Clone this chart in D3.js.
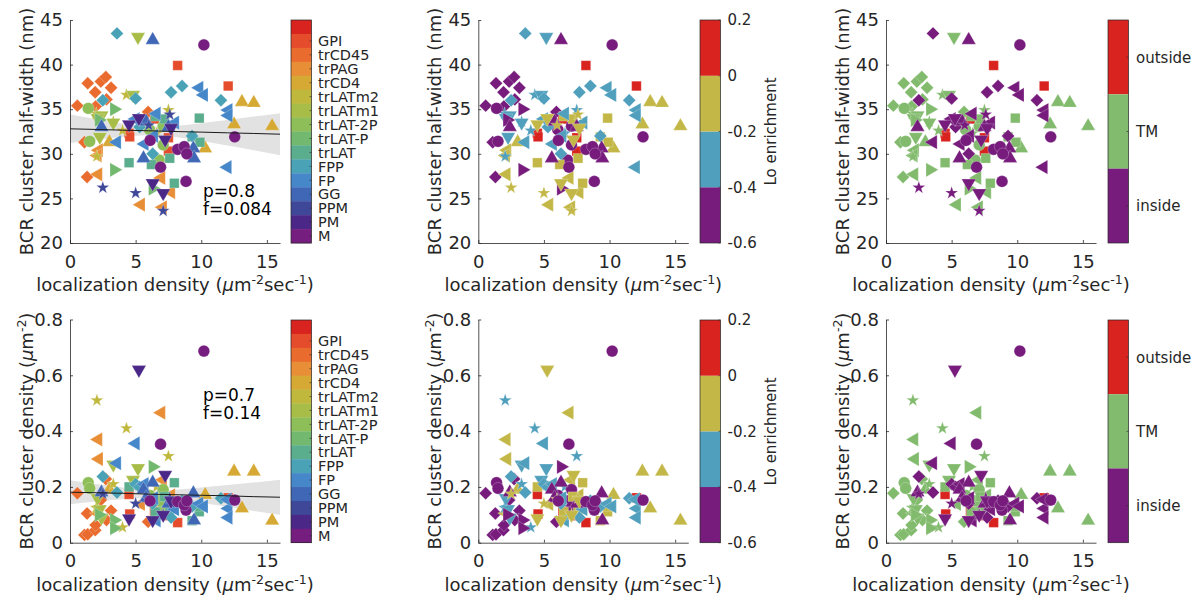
<!DOCTYPE html>
<html>
<head>
<meta charset="utf-8">
<script src="https://cdn.jsdelivr.net/npm/d3@7"></script>
<style>
  body { margin: 0; background: #fff; }
  svg { display: block; }
  text { font-family: "DejaVu Sans", sans-serif; fill: #262626; }
</style>
</head>
<body>
<svg id="fig" width="1200" height="601"></svg>
<script>
// ---- probes (colour-bar order, top to bottom) ----
const probes = ["GPI","trCD45","trPAG","trCD4","trLATm2","trLATm1","trLAT-2P","trLAT-P","trLAT","FPP","FP","GG","PPM","PM","M"];
const probeMarkers = ["square","diamond","left","up","star","down","circle","right","square","diamond","left","up","star","down","circle"];
const probeLoEnrichment = [0.1,-0.5,-0.1,-0.1,-0.3,-0.3,-0.5,-0.5,-0.1,-0.3,-0.3,-0.5,-0.1,-0.1,-0.5];
const probeSite = ["outside","TM","TM","TM","TM","TM","TM","TM","TM","inside","inside","inside","inside","inside","inside"];

// 16-step rainbow map; probe i uses step i+1
const rainbowColors = ["#d8231f","#e54c2b","#ea6b2e","#e88e37","#d6a934","#c0b83d","#a8bd47","#8ebe58","#73b86f","#5aad8d","#4aa2b6","#4587c9","#3f67b6","#3f4799","#4b2888","#761e80"];

const loTicks = [0.2, 0, -0.2, -0.4, -0.6];
const loBins = [-0.4, -0.2, 0];
const loColors = ["#771c7d", "#4f9fbd", "#c3b847", "#d8231f"];   // low -> high

const siteNames = ["outside", "TM", "inside"];
const siteColors = ["#d8231f", "#82bb6d", "#771c7d"];

// ---- one entry per cell ----
const pointProbe = [
  0,0,0,0,0,0,0,
  1,1,1,1,1,1,1,1,1,1,1,
  2,2,2,2,2,2,2,
  3,3,3,3,3,3,
  4,4,4,4,4,4,4,
  5,5,5,5,5,5,
  6,6,6,6,6,6,
  7,7,7,7,
  8,8,8,8,8,8,8,8,8,
  9,9,9,9,9,9,9,9,9,
  10,10,10,10,10,10,10,10,10,10,10,
  11,11,11,11,11,11,11,
  12,12,12,12,12,
  13,13,13,13,13,13,
  14,14,14,14,14,14,14,14
];
const locDensity = [
  8.2,12.05,6.44,4.5,4.55,7.5,7.5,
  0.56,1.1,1.3,1.35,1.92,1.95,2.35,2.73,2.78,3.13,5.95,
  2.15,2.2,2.1,5.4,7.07,6.95,7.7,
  13.1,14.0,15.4,12.5,10.3,3.0,
  4.3,7.5,2.05,6.6,4.0,3.3,2.0,
  5.18,4.8,2.4,3.3,2.27,2.1,
  1.39,1.5,6.06,7.1,7.1,6.8,
  3.36,3.36,6.3,2.2,
  9.85,4.5,7.6,7.95,6.2,9.3,9.9,7.2,6.5,
  3.58,7.7,8.54,11.5,5.0,2.5,6.3,5.3,9.3,
  9.85,10.2,12.07,12.07,12.0,3.58,5.68,5.0,6.6,6.4,8.0,
  6.3,9.4,9.45,5.6,2.4,7.5,5.8,
  2.5,5.0,7.1,7.6,6.0,
  4.5,6.3,7.1,7.25,7.7,5.25,
  10.2,12.55,8.84,8.2,8.7,8.9,6.9,6.1
];
const halfWidth = [
  39.9,37.6,33.9,32.3,31.9,31.8,30.3,
  35.4,31.3,27.4,37.9,36.9,35.3,38.1,38.6,36.1,37.4,34.7,
  27.7,30.4,29.8,24.3,24.0,27.3,25.7,
  35.8,35.7,33.1,33.3,30.6,31.3,
  36.6,34.9,29.7,32.3,32.6,33.6,34.5,
  43.1,36.6,34.3,33.5,31.9,34.0,
  35.1,31.4,32.7,33.1,31.0,29.3,
  35.0,28.2,26.1,33.8,
  34.0,29.0,29.5,26.7,28.8,31.9,31.3,33.9,34.2,
  43.5,36.9,37.6,36.0,36.2,36.0,30.0,33.0,32.0,
  37.4,36.6,34.9,34.3,28.5,31.3,31.1,33.9,34.5,32.0,33.5,
  42.75,30.6,29.5,29.5,33.0,33.0,33.6,
  26.2,25.6,23.6,34.4,33.2,
  33.3,26.7,25.6,31.6,32.9,34.0,
  42.2,31.9,26.9,30.5,30.8,30.0,28.5,31.5
];
const clusterDensity = [
  0.072,0.161,0.113,0.173,0.103,0.13,0.097,
  0.177,0.028,0.105,0.03,0.045,0.063,0.153,0.228,0.081,0.115,0.075,
  0.37,0.30,0.106,0.139,0.225,0.466,0.17,
  0.123,0.255,0.079,0.255,0.171,0.19,
  0.41,0.31,0.51,0.2,0.055,0.21,0.125,
  0.267,0.225,0.09,0.28,0.12,0.16,
  0.215,0.195,0.17,0.19,0.12,0.15,
  0.081,0.052,0.272,0.1,
  0.111,0.2,0.12,0.215,0.147,0.079,0.13,0.165,0.11,
  0.18,0.09,0.15,0.159,0.21,0.237,0.14,0.2,0.13,
  0.14,0.13,0.123,0.09,0.155,0.285,0.21,0.356,0.08,0.16,0.12,
  0.215,0.177,0.08,0.19,0.18,0.14,0.16,
  0.175,0.14,0.1,0.16,0.155,
  0.087,0.081,0.1,0.243,0.15,0.62,
  0.687,0.153,0.117,0.147,0.135,0.15,0.353,0.15
];

// ---- linear fits with confidence band ----
const fitX = [0, 2, 4, 6, 8, 10, 12, 14, 16];
const halfWidthFit = [32.8, 32.73, 32.65, 32.58, 32.5, 32.43, 32.35, 32.28, 32.2];
const halfWidthFitCI = [1.6, 1.16, 0.76, 0.51, 0.63, 1.0, 1.43, 1.89, 2.35];
const densityFit = [0.181, 0.179, 0.177, 0.174, 0.172, 0.17, 0.168, 0.165, 0.163];
const densityFitCI = [0.043, 0.031, 0.021, 0.015, 0.018, 0.028, 0.039, 0.051, 0.063];
const fitStats = [["p=0.8", "f=0.084"], ["p=0.7", "f=0.14"]];

const points = pointProbe.map((p, i) => ({
  probe: p, x: locDensity[i], hw: halfWidth[i], dens: clusterDensity[i]
}));

// ---- layout ----
const svg = d3.select("#fig");
const axisColor = "#262626";
const rows = [
  { key: "hw", domain: [20, 45], ticks: [20, 25, 30, 35, 40, 45], top: 20, bottom: 243,
    fit: halfWidthFit, ci: halfWidthFitCI, stats: fitStats[0], statsY: [197, 215],
    ylabel: [["BCR cluster half-width (nm)"]] },
  { key: "dens", domain: [0, 0.8], ticks: [0, 0.2, 0.4, 0.6, 0.8], top: 319.5, bottom: 542.7,
    fit: densityFit, ci: densityFitCI, stats: fitStats[1], statsY: [400.7, 418.5],
    ylabel: [["BCR cluster density ("], ["μ", "it"], ["m"], ["-2", "sup"], [")", "down"]] }
];
const cols = [
  { left: 70, mode: "probe", bar: 291 },
  { left: 478.3, mode: "lo", bar: 700 },
  { left: 886, mode: "site", bar: 1108 }
];
const plotW = 210;
const barW = 20.5;

const markerDefs = {
  square:  { type: d3.symbolSquare,   rot: 0,   size: 92 },
  diamond: { type: d3.symbolSquare,   rot: 45,  size: 84 },
  up:      { type: d3.symbolTriangle, rot: 0,   size: 88 },
  down:    { type: d3.symbolTriangle, rot: 180, size: 88 },
  left:    { type: d3.symbolTriangle, rot: -90, size: 88 },
  right:   { type: d3.symbolTriangle, rot: 90,  size: 88 },
  circle:  { type: d3.symbolCircle,   rot: 0,   size: 108 },
  star:    { type: d3.symbolStar,     rot: 0,   size: 52 }
};

const loScale = d3.scaleThreshold().domain(loBins).range(loColors);
const siteScale = d3.scaleOrdinal().domain(siteNames).range(siteColors);

function colorOf(mode, p) {
  if (mode === "probe") return rainbowColors[p + 1];
  if (mode === "lo") return loScale(probeLoEnrichment[p]);
  return siteScale(probeSite[p]);
}

function richText(sel, parts, supSize) {
  parts.forEach(([t, kind]) => {
    const ts = sel.append("tspan").text(t);
    if (kind === "it") ts.attr("font-style", "italic");
    if (kind === "sup") ts.attr("font-size", supSize).attr("dy", -7);
    if (kind === "down") ts.attr("dy", 7);
  });
}

const xLabelParts = [["localization density ("], ["μ", "it"], ["m"], ["-2", "sup"], ["sec", "down"], ["-1", "sup"], [")", "down"]];

rows.forEach((row, ri) => {
  const y = d3.scaleLinear().domain(row.domain).range([row.bottom, row.top]);
  cols.forEach((col, ci) => {
    const x = d3.scaleLinear().domain([0, 16]).range([col.left, col.left + plotW]);
    const g = svg.append("g");

    // regression band + line in the probe panels
    if (ci === 0) {
      const band = d3.area()
        .x((d, i) => x(fitX[i]))
        .y0((d, i) => y(row.fit[i] - row.ci[i]))
        .y1((d, i) => y(row.fit[i] + row.ci[i]))
        .curve(d3.curveNatural);
      g.append("path").datum(fitX).attr("d", band).attr("fill", "#e2e2e2");
    }

    // markers
    g.append("g").selectAll("path").data(points).join("path")
      .attr("d", d => d3.symbol().type(markerDefs[probeMarkers[d.probe]].type)
                        .size(markerDefs[probeMarkers[d.probe]].size)())
      .attr("transform", d => `translate(${x(d.x)},${y(d[row.key])}) rotate(${markerDefs[probeMarkers[d.probe]].rot})`)
      .attr("fill", d => colorOf(col.mode, d.probe))
      .attr("stroke", "#ffffff").attr("stroke-width", 0.4).attr("stroke-opacity", 0.6);

    if (ci === 0) {
      const line = d3.line().x((d, i) => x(fitX[i])).y((d, i) => y(row.fit[i]));
      g.append("path").datum(fitX).attr("d", line)
        .attr("fill", "none").attr("stroke", "#1a1a1a").attr("stroke-width", 1);
      row.stats.forEach((s, k) => {
        g.append("text").attr("x", 203).attr("y", row.statsY[k])
          .attr("font-size", 17).style("fill", "#000").text(s);
      });
    }

    // axes
    const ya = g.append("g").attr("transform", `translate(${col.left},0)`)
      .call(d3.axisLeft(y).tickValues(row.ticks).tickFormat(d3.format("~g"))
        .tickSizeInner(-3).tickSizeOuter(0).tickPadding(7));
    const xa = g.append("g").attr("transform", `translate(0,${row.bottom})`)
      .call(d3.axisBottom(x).tickValues([0, 5, 10, 15])
        .tickSizeInner(-3).tickSizeOuter(0).tickPadding(12));
    [ya, xa].forEach(a => {
      a.select(".domain").attr("stroke", axisColor).attr("stroke-width", 0.8);
      a.selectAll(".tick line").attr("stroke", axisColor).attr("stroke-width", 0.8);
      a.selectAll(".tick text").attr("font-size", 18).attr("font-family", "DejaVu Sans")
        .style("fill", axisColor);
    });

    // axis titles
    const xl = g.append("text")
      .attr("x", col.left + plotW / 2).attr("y", row.bottom + 48)
      .attr("text-anchor", "middle").attr("font-size", 18);
    richText(xl, xLabelParts, 12.5);

    const ycx = col.left - 37, ycy = (row.top + row.bottom) / 2;
    const yl = g.append("text")
      .attr("transform", `translate(${ycx},${ycy}) rotate(-90)`)
      .attr("text-anchor", "middle").attr("font-size", 18);
    richText(yl, row.ylabel, 12.5);

    // colour bars
    const cb = g.append("g");
    const barTop = row.top + (ri === 1 ? 0.5 : 0), barBot = row.bottom;
    const bx = col.bar;
    if (col.mode === "probe") {
      const by = d3.scaleBand().domain(d3.range(rainbowColors.length)).range([barTop, barBot]);
      cb.selectAll("rect").data(rainbowColors).join("rect")
        .attr("x", bx).attr("y", (d, i) => by(i)).attr("width", barW).attr("height", by.bandwidth() + 0.3)
        .attr("fill", d => d);
      probes.forEach((p, i) => {
        const yy = by(i + 1) + by.bandwidth() / 2;
        cb.append("line").attr("x1", bx + barW - 2).attr("x2", bx + barW).attr("y1", yy).attr("y2", yy)
          .attr("stroke", axisColor).attr("stroke-width", 0.6);
        cb.append("text").attr("x", bx + barW + 6.5).attr("y", yy).attr("dy", "0.36em")
          .attr("font-size", 14.5).text(p);
      });
    } else if (col.mode === "lo") {
      const by = d3.scaleLinear().domain([-0.6, 0.2]).range([barBot, barTop]);
      const edges = [-0.6].concat(loBins, [0.2]);
      cb.selectAll("rect").data(loColors).join("rect")
        .attr("x", bx).attr("y", (d, i) => by(edges[i + 1])).attr("width", barW)
        .attr("height", (d, i) => by(edges[i]) - by(edges[i + 1]))
        .attr("fill", d => d);
      loTicks.forEach(t => {
        cb.append("line").attr("x1", bx + barW - 2).attr("x2", bx + barW).attr("y1", by(t)).attr("y2", by(t))
          .attr("stroke", axisColor).attr("stroke-width", 0.6);
        cb.append("text").attr("x", bx + barW + 7).attr("y", by(t)).attr("dy", "0.36em")
          .attr("font-size", 15).text(d3.format("~g")(t).replace("−", "-"));
      });
      cb.append("text")
        .attr("transform", `translate(${bx + 76},${(barTop + barBot) / 2}) rotate(-90)`)
        .attr("text-anchor", "middle").attr("font-size", 15).text("Lo enrichment");
    } else {
      const by = d3.scaleBand().domain(siteNames).range([barTop, barBot]);
      cb.selectAll("rect").data(siteNames).join("rect")
        .attr("x", bx).attr("y", d => by(d)).attr("width", barW).attr("height", by.bandwidth())
        .attr("fill", d => siteScale(d));
      siteNames.forEach(s => {
        const yy = by(s) + by.bandwidth() / 2;
        cb.append("line").attr("x1", bx + barW - 2).attr("x2", bx + barW).attr("y1", yy).attr("y2", yy)
          .attr("stroke", axisColor).attr("stroke-width", 0.6);
        cb.append("text").attr("x", bx + barW + 7.5).attr("y", yy).attr("dy", "0.36em")
          .attr("font-size", 15).text(s);
      });
    }
    cb.append("rect").attr("x", bx).attr("y", barTop).attr("width", barW).attr("height", barBot - barTop)
      .attr("fill", "none").attr("stroke", axisColor).attr("stroke-width", 0.7);
  });
});
</script>
</body>
</html>
